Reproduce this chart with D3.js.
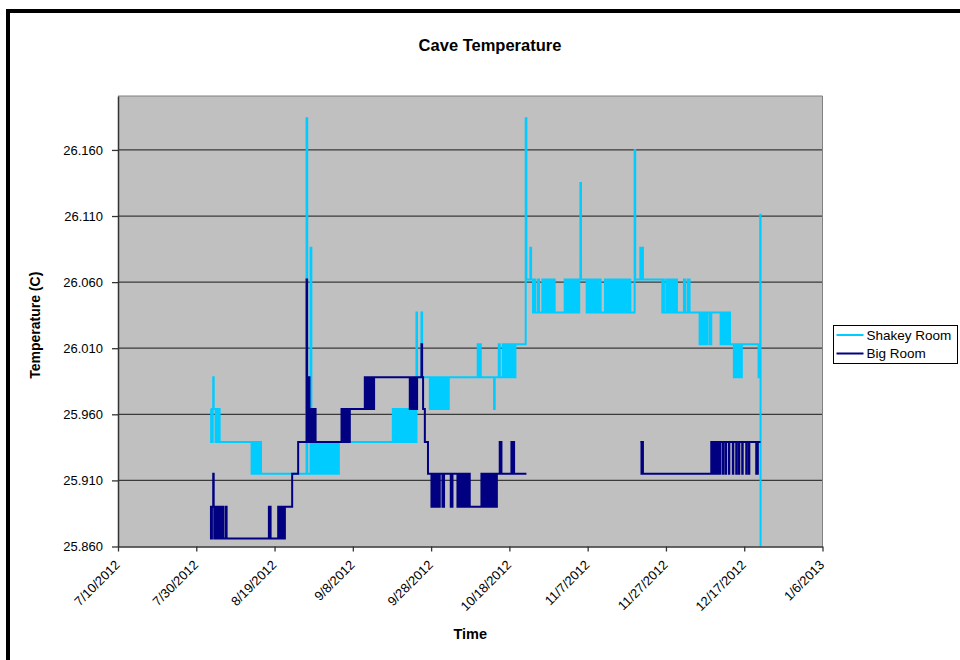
<!DOCTYPE html>
<html>
<head>
<meta charset="utf-8">
<script src="https://cdn.jsdelivr.net/npm/d3@7"></script>
<style>
body { margin: 0; background: #fff; }
svg { display: block; font-family: "Liberation Sans", Arial, sans-serif; }
</style>
</head>
<body>
<svg id="chart" width="960" height="660"></svg>
<script>
// Chart text.
var chartTitle = 'Cave Temperature';
var xTitle = 'Time';
var yTitle = 'Temperature (C)';
var seriesNames = ['Shakey Room', 'Big Room'];

// Axis ticks.
var xTickLabels = ['7/10/2012', '7/30/2012', '8/19/2012', '9/8/2012', '9/28/2012',
    '10/18/2012', '11/7/2012', '11/27/2012', '12/17/2012', '1/6/2013'];
var yTickValues = [25.860, 25.910, 25.960, 26.010, 26.060, 26.110, 26.160];
var yMax = 26.2008;

// Readings: [days after 7/10/2012, temperature C]. null = no reading.
var shakeyRoom = [
    [23.67,25.964],[23.80,25.939],[23.95,25.964],[24.08,25.939],[24.20,25.964],[24.33,25.988],[24.45,25.964],
    [24.94,25.939],[25.20,25.964],[25.45,25.939],[25.70,25.964],[25.97,25.939],
    [34.14,25.915],[34.54,25.939],[34.94,25.915],[35.34,25.939],[35.74,25.915],[36.14,25.939],[36.54,25.915],
    [48.18,26.184],[48.35,25.915],[49.20,26.086],[49.40,25.915],
    [49.60,25.939],[50.00,25.915],[50.40,25.939],[50.80,25.915],[51.20,25.939],[51.60,25.915],[52.00,25.939],
    [52.40,25.915],[52.80,25.939],[53.20,25.915],[53.60,25.939],[54.00,25.915],[54.40,25.939],[54.80,25.915],
    [55.20,25.939],[55.60,25.915],[56.00,25.939],[56.20,25.915],[56.43,25.939],
    [70.21,25.964],[70.60,25.939],[71.00,25.964],[71.40,25.939],[71.80,25.964],[72.00,25.939],
    [72.25,25.964],[72.65,25.939],[73.05,25.964],[73.53,25.939],
    [74.04,25.964],[74.44,25.939],[74.84,25.964],[75.24,25.939],[75.64,25.964],[76.04,25.939],
    [76.26,26.037],[76.40,25.988],[77.54,26.037],[77.70,25.988],
    [79.66,25.964],[80.06,25.988],[80.46,25.964],[80.86,25.988],[81.26,25.964],[81.66,25.988],[82.06,25.964],
    [82.46,25.988],[82.86,25.964],[83.26,25.988],[83.66,25.964],[84.06,25.988],[84.30,25.964],[84.51,25.988],
    [91.91,26.013],[92.15,25.988],[92.45,26.013],[92.68,25.988],
    [96.08,25.964],[96.25,25.988],
    [97.28,26.013],[97.55,25.988],
    [98.30,26.013],[98.70,25.988],[99.10,26.013],[99.50,25.988],[99.90,26.013],[100.30,25.988],[100.70,26.013],
    [101.10,25.988],[101.54,26.013],
    [104.17,26.184],[104.35,26.062],[105.37,26.086],[105.55,26.062],
    [106.03,26.037],[106.33,26.062],[106.64,26.037],
    [107.31,26.062],[107.56,26.037],
    [108.43,26.062],[108.83,26.037],[109.23,26.062],[109.63,26.037],[110.03,26.062],[110.43,26.037],
    [110.83,26.062],[111.23,26.037],[111.40,26.062],[111.57,26.037],
    [114.13,26.062],[114.56,26.037],[114.97,26.062],[115.40,26.037],
    [115.84,26.062],[116.13,26.037],[116.42,26.062],[116.68,26.037],[117.05,26.062],[117.45,26.037],
    [117.85,26.062],[118.14,26.135],[118.30,26.062],
    [119.74,26.037],[120.14,26.062],[120.54,26.037],[120.94,26.062],[121.34,26.037],[121.74,26.062],
    [122.14,26.037],[122.54,26.062],[122.94,26.037],[123.10,26.062],[123.32,26.037],
    [124.42,26.062],[124.82,26.037],[125.22,26.062],[125.62,26.037],[126.02,26.062],[126.42,26.037],
    [126.82,26.062],[127.22,26.037],[127.62,26.062],[128.02,26.037],[128.42,26.062],[128.82,26.037],
    [129.22,26.062],[129.62,26.037],[130.02,26.062],[130.42,26.037],[130.70,26.062],[130.90,26.037],
    [132.00,26.160],[132.15,26.062],
    [133.46,26.086],[133.75,26.062],[133.90,26.086],[134.12,26.062],
    [139.07,26.037],[139.27,26.062],[139.48,26.037],
    [140.09,26.062],[140.49,26.037],[140.89,26.062],[141.29,26.037],[141.69,26.062],[142.09,26.037],
    [142.49,26.062],[142.80,26.037],
    [144.59,26.062],[144.94,26.037],[145.61,26.062],[146.04,26.037],
    [148.60,26.013],[149.00,26.037],[149.40,26.013],[149.80,26.037],[150.20,26.013],[150.55,26.037],
    [151.15,26.013],[151.58,26.037],
    [153.96,26.013],[154.36,26.037],[154.76,26.013],[155.16,26.037],[155.56,26.013],[155.96,26.037],[156.36,26.013],
    [157.35,25.988],[157.75,26.013],[158.15,25.988],[158.55,26.013],[158.95,25.988],[159.39,26.013],
    [163.66,25.988],[163.90,26.013],[164.09,26.111],[164.17,25.860]
];

var bigRoom = [
    [23.49,25.890],[23.75,25.866],[24.00,25.890],[24.33,25.915],[24.45,25.890],[24.59,25.866],
    [24.77,25.890],[25.17,25.866],[25.57,25.890],[25.97,25.866],[26.37,25.890],[26.88,25.866],
    [27.50,25.890],[27.75,25.866],
    [38.55,25.890],[38.99,25.866],
    [40.93,25.890],[41.33,25.866],[41.73,25.890],[42.13,25.866],[42.64,25.890],
    [44.50,25.915],[46.03,25.939],
    [48.18,26.062],[48.32,25.964],[48.55,25.939],[48.77,25.988],[48.92,25.964],[49.20,25.939],
    [49.50,25.964],[49.80,25.939],[50.10,25.964],[50.48,25.939],
    [57.11,25.964],[57.50,25.939],[57.90,25.964],[58.30,25.939],[58.70,25.964],[59.00,25.939],[59.23,25.964],
    [63.06,25.988],[63.50,25.964],[63.83,25.988],[64.23,25.964],[64.63,25.988],[65.03,25.964],[65.43,25.988],
    [74.55,25.964],[74.95,25.988],[75.35,25.964],[75.75,25.988],[76.10,25.964],[76.42,25.988],
    [77.54,26.013],[77.70,25.988],[77.95,25.964],[78.40,25.939],[79.20,25.915],
    [80.09,25.890],[80.50,25.915],[80.94,25.890],[81.37,25.915],[81.78,25.890],[82.21,25.915],
    [82.90,25.890],[83.31,25.915],[85.02,25.890],[85.46,25.915],
    [86.73,25.890],[87.13,25.915],[87.53,25.890],[87.93,25.915],[88.33,25.890],[88.73,25.915],
    [89.13,25.890],[89.50,25.915],[89.87,25.890],
    [92.86,25.915],[93.26,25.890],[93.66,25.915],[94.06,25.890],[94.46,25.915],[94.86,25.890],
    [95.26,25.915],[95.66,25.890],[96.06,25.915],[96.46,25.890],[96.80,25.915],
    [97.53,25.939],[97.97,25.915],
    [100.52,25.939],[100.80,25.915],[101.00,25.939],[101.20,25.915],
    [104.35,25.915],[104.36,null],
    [133.46,25.939],[133.75,25.915],[133.90,25.939],[134.12,25.915],
    [151.58,25.939],[151.90,25.915],[152.30,25.939],[152.70,25.915],[153.10,25.939],[153.50,25.915],[153.90,25.939],
    [154.54,25.915],[154.66,25.939],[155.23,25.915],[155.35,25.939],[156.07,25.915],[156.19,25.939],
    [157.09,25.915],[157.21,25.939],[157.96,25.915],[158.08,25.939],[158.62,25.915],[158.74,25.939],
    [159.49,25.915],[159.61,25.939],[160.52,25.915],[160.64,25.939],[161.18,25.915],[161.30,25.939],
    [163.07,25.915],[163.48,25.939],[164.17,25.939]
];

var colors = ['#00ccff', '#000080'];

var svg = d3.select('#chart');
var plot = { left: 118, top: 96, right: 822.5, bottom: 546.5 };

var parseTick = d3.timeParse('%m/%d/%Y');
var xTickDates = xTickLabels.map(parseTick);
var day0 = xTickDates[0].getTime();
function toDate(d) { return new Date(day0 + d * 864e5); }

var x = d3.scaleTime()
    .domain([xTickDates[0], xTickDates[xTickDates.length - 1]])
    .range([plot.left, plot.right]);

var y = d3.scaleLinear()
    .domain([yTickValues[0], yMax])
    .range([plot.bottom, plot.top]);

// Outer chart frame (only top and left edges are inside the picture).
svg.append('rect')
    .attr('x', 8).attr('y', 11)
    .attr('width', 1000).attr('height', 700)
    .attr('fill', 'none')
    .attr('stroke', '#000')
    .attr('stroke-width', 4);

// Plot area background.
svg.append('rect')
    .attr('x', plot.left).attr('y', plot.top)
    .attr('width', plot.right - plot.left).attr('height', plot.bottom - plot.top)
    .attr('fill', '#c0c0c0');

// Gridlines.
svg.append('g')
    .selectAll('line')
    .data(yTickValues.slice(1))
    .enter().append('line')
    .attr('x1', plot.left).attr('x2', plot.right)
    .attr('y1', d => y(d)).attr('y2', d => y(d))
    .attr('stroke', '#3a3a3a')
    .attr('stroke-width', 1.3);

// Plot border (top and right).
svg.append('path')
    .attr('d', 'M' + plot.left + ',' + plot.top + 'H' + plot.right + 'V' + plot.bottom)
    .attr('fill', 'none')
    .attr('stroke', '#808080')
    .attr('stroke-width', 1);

// Clip for the data lines.
svg.append('clipPath').attr('id', 'plotClip')
    .append('rect')
    .attr('x', plot.left).attr('y', plot.top)
    .attr('width', plot.right - plot.left).attr('height', plot.bottom - plot.top);

var line = d3.line()
    .defined(d => d[1] != null)
    .x(d => x(toDate(d[0])))
    .y(d => y(d[1]))
    .curve(d3.curveStepAfter);

var lines = svg.append('g').attr('clip-path', 'url(#plotClip)');
[shakeyRoom, bigRoom].forEach(function(series, i) {
    lines.append('path')
        .datum(series)
        .attr('d', line)
        .attr('fill', 'none')
        .attr('stroke', colors[i])
        .attr('stroke-width', 2)
        .attr('stroke-linejoin', 'miter');
});

// Axes.
var xAxis = d3.axisBottom(x)
    .tickValues(xTickDates)
    .tickFormat((d, i) => xTickLabels[i])
    .tickSize(5)
    .tickSizeOuter(0);

var gx = svg.append('g')
    .attr('transform', 'translate(0,' + plot.bottom + ')')
    .call(xAxis);
gx.selectAll('text')
    .attr('x', 0).attr('y', 0).attr('dy', '0.35em')
    .attr('text-anchor', 'end')
    .attr('transform', 'translate(-1,16) rotate(-45)')
    .style('font-size', '13px')
    .attr('fill', '#000');

var yAxis = d3.axisLeft(y)
    .tickValues(yTickValues)
    .tickFormat(d3.format('.3f'))
    .tickSize(6)
    .tickPadding(9)
    .tickSizeOuter(0);

var gy = svg.append('g')
    .attr('transform', 'translate(' + plot.left + ',0)')
    .call(yAxis);
gy.selectAll('text')
    .style('font-size', '13px')
    .attr('fill', '#000');

[gx, gy].forEach(function(g) {
    g.attr('font-family', null);
    g.select('.domain').attr('stroke', '#333').attr('stroke-width', 1.5);
    g.selectAll('.tick line').attr('stroke', '#333').attr('stroke-width', 1.3);
});

// Titles.
svg.append('text')
    .attr('x', 490).attr('y', 51)
    .attr('text-anchor', 'middle')
    .style('font-size', '16.5px').style('font-weight', 'bold')
    .text(chartTitle);

svg.append('text')
    .attr('x', (plot.left + plot.right) / 2).attr('y', 639)
    .attr('text-anchor', 'middle')
    .style('font-size', '14.5px').style('font-weight', 'bold')
    .text(xTitle);

svg.append('text')
    .attr('transform', 'translate(40,' + ((plot.top + plot.bottom) / 2 + 4) + ') rotate(-90)')
    .attr('text-anchor', 'middle')
    .style('font-size', '14px').style('font-weight', 'bold')
    .text(yTitle);

// Legend.
var legend = svg.append('g').attr('transform', 'translate(833.5,325.5)');
legend.append('rect')
    .attr('width', 124).attr('height', 38)
    .attr('fill', '#fff')
    .attr('stroke', '#000')
    .attr('stroke-width', 1);

var items = legend.selectAll('g.item')
    .data(seriesNames)
    .enter().append('g')
    .attr('class', 'item')
    .attr('transform', (d, i) => 'translate(0,' + (9.5 + i * 18.5) + ')');
items.append('line')
    .attr('x1', 3).attr('x2', 30)
    .attr('stroke', (d, i) => colors[i])
    .attr('stroke-width', 2);
items.append('text')
    .attr('x', 33).attr('dy', '0.35em')
    .style('font-size', '13.5px')
    .text(d => d);
</script>
</body>
</html>
